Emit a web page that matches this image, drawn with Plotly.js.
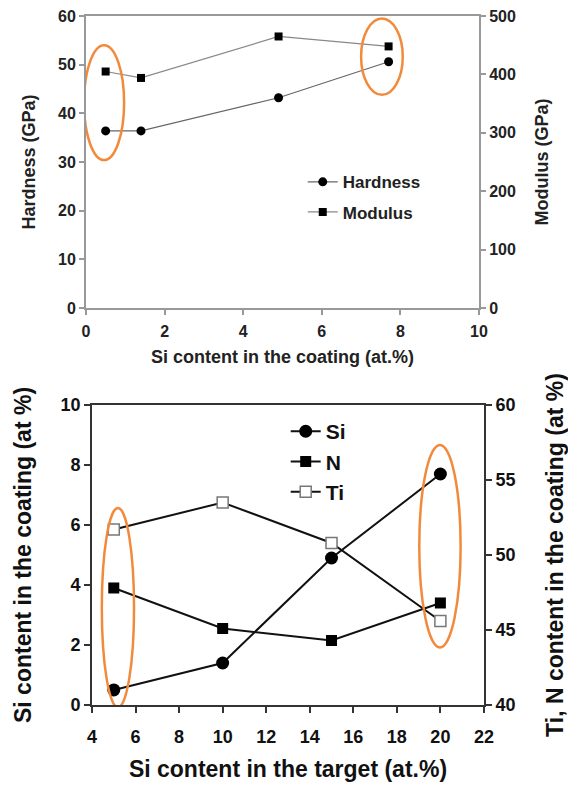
<!DOCTYPE html>
<html>
<head>
<meta charset="utf-8">
<script src="https://cdn.plot.ly/plotly-3.0.1.min.js"></script>
<style>html,body{margin:0;padding:0;background:#fff;}#chart{width:568px;height:786px;}</style>
</head>
<body>
<div id="chart"></div>
<script>
// ---- Top panel data ----
const siCoating = [0.5, 1.4, 4.9, 7.7];
const hardness = [36.4, 36.4, 43.2, 50.6];
const modulus = [405, 394, 465, 448];

// ---- Bottom panel data ----
const siTarget = [5, 10, 15, 20];
const siContent = [0.5, 1.4, 4.9, 7.7];
const nContent = [47.8, 45.1, 44.3, 46.8];
const tiContent = [51.7, 53.5, 50.8, 45.6];

// ---- Highlight ellipses (data coordinates) ----
const topEllipses = [[-0.05, 30.4, 0.97, 54.0], [7.0, 43.8, 8.06, 59.5]];
const botEllipses = [[4.45, -0.08, 5.93, 6.57], [19.03, 1.92, 20.93, 8.67]];

const FONT = 'Liberation Sans, Arial, sans-serif';
const orange = '#F28A3C';

const traces = [
  {x: siCoating, y: hardness, name: 'Hardness', type: 'scatter', mode: 'lines+markers',
   xaxis: 'x', yaxis: 'y', legend: 'legend', legendgroup: 'h',
   line: {color: '#666', width: 1.2}, marker: {symbol: 'circle', size: 9, color: '#000'}},
  {x: siCoating, y: modulus, name: 'Modulus', type: 'scatter', mode: 'lines+markers',
   xaxis: 'x', yaxis: 'y2', legend: 'legend', legendgroup: 'm',
   line: {color: '#888', width: 1.2}, marker: {symbol: 'square', size: 8, color: '#000'}},
  {x: siTarget, y: siContent, name: 'Si', type: 'scatter', mode: 'lines+markers',
   xaxis: 'x2', yaxis: 'y3', legend: 'legend2',
   line: {color: '#111', width: 2}, marker: {symbol: 'circle', size: 13, color: '#000'}},
  {x: siTarget, y: nContent, name: 'N', type: 'scatter', mode: 'lines+markers',
   xaxis: 'x2', yaxis: 'y4', legend: 'legend2',
   line: {color: '#111', width: 2}, marker: {symbol: 'square', size: 11, color: '#000'}},
  {x: siTarget, y: tiContent, name: 'Ti', type: 'scatter', mode: 'lines+markers',
   xaxis: 'x2', yaxis: 'y4', legend: 'legend2',
   line: {color: '#111', width: 2}, marker: {symbol: 'square', size: 11, color: '#fff', line: {color: '#777', width: 1.5}}}
];

const topTick = {family: FONT, size: 16, color: '#222', weight: 'bold'};
const topTitle = {family: FONT, size: 18, color: '#222', weight: 'bold'};
const botTick = {family: FONT, size: 18, color: '#111', weight: 'bold'};
const botTitle = {family: FONT, size: 23, color: '#111', weight: 'bold'};

function ax(extra, light) {
  return Object.assign({
    showgrid: false, zeroline: false, ticks: 'outside',
    ticklen: light ? 5 : 6, tickwidth: 2,
    tickcolor: light ? '#999' : '#333',
    showline: true, linecolor: light ? '#999' : '#333', linewidth: 2,
    tickfont: light ? topTick : botTick, automargin: false
  }, extra);
}

const shapes = [];
topEllipses.forEach(e => shapes.push({type: 'circle', xref: 'x', yref: 'y', x0: e[0], y0: e[1], x1: e[2], y1: e[3],
  line: {color: orange, width: 2.5}}));
botEllipses.forEach(e => shapes.push({type: 'circle', xref: 'x2', yref: 'y3', x0: e[0], y0: e[1], x1: e[2], y1: e[3],
  line: {color: orange, width: 2.5}}));

const layout = {
  width: 568, height: 786,
  margin: {l: 0, r: 0, t: 0, b: 0},
  paper_bgcolor: '#fff', plot_bgcolor: '#fff',
  showlegend: true,
  xaxis: ax({domain: [0.1514, 0.8433], anchor: 'y', range: [0, 10], dtick: 2, mirror: true, ticklabelstandoff: 3,
    title: {text: 'Si content in the coating (at.%)', font: topTitle, standoff: 11}}, true),
  yaxis: ax({domain: [0.6081, 0.9796], anchor: 'x', range: [0, 60], dtick: 10,
    title: {text: 'Hardness (GPa)', font: topTitle, standoff: 18}}, true),
  yaxis2: ax({overlaying: 'y', side: 'right', anchor: 'x', range: [0, 500], dtick: 100,
    title: {text: 'Modulus (GPa)', font: topTitle, standoff: 20}}, true),
  xaxis2: ax({domain: [0.162, 0.852], anchor: 'y3', range: [4, 22], dtick: 2, mirror: true, ticklabelstandoff: 8,
    title: {text: 'Si content in the target (at.%)', font: botTitle, standoff: 15}}, false),
  yaxis3: ax({domain: [0.1031, 0.4847], anchor: 'x2', range: [0, 10], dtick: 2,
    title: {text: 'Si content in the coating (at %)', font: botTitle, standoff: 22}}, false),
  yaxis4: ax({overlaying: 'y3', side: 'right', anchor: 'x2', range: [40, 60], dtick: 5,
    title: {text: 'Ti, N content in the coating (at %)', font: botTitle, standoff: 33}}, false),
  legend: {x: 0.533, y: 0.791, xanchor: 'left', yanchor: 'top', bgcolor: 'rgba(0,0,0,0)',
    font: {family: FONT, size: 17, color: '#222', weight: 'bold'}, tracegroupgap: 5},
  legend2: {x: 0.503, y: 0.477, xanchor: 'left', yanchor: 'top', bgcolor: 'rgba(0,0,0,0)',
    font: {family: FONT, size: 21, color: '#111', weight: 'bold'}, tracegroupgap: 0},
  shapes: shapes
};

Plotly.newPlot('chart', traces, layout, {staticPlot: true, displayModeBar: false});
</script>
</body>
</html>
